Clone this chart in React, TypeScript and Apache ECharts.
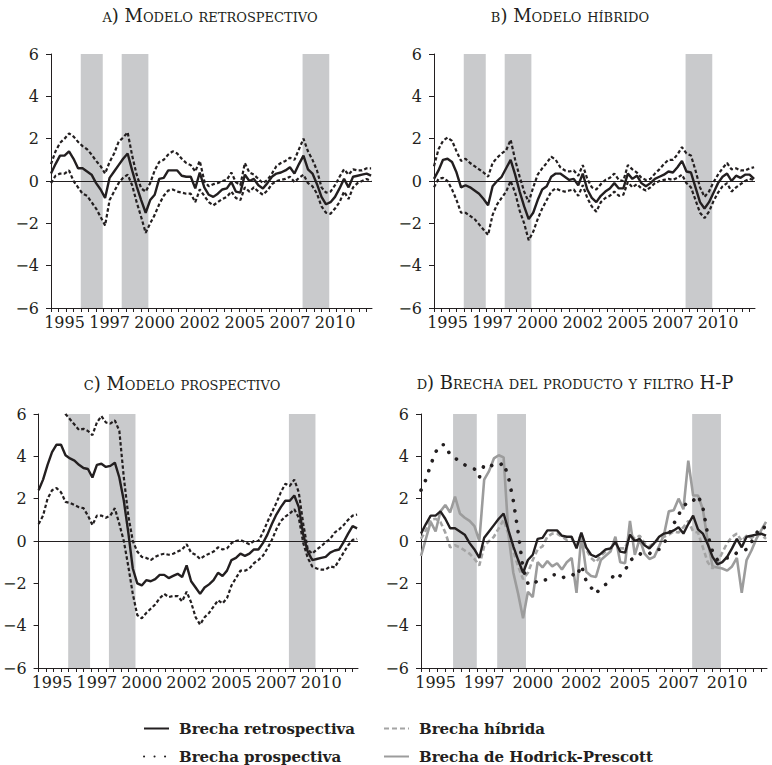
import React, { useEffect, useRef } from "react";
import * as echarts from "echarts";

// ---------- Data (quarterly, from 1994 Q2) ----------
const startYear = 1994.25;
const quarters: number[] = Array.from({ length: 72 }, (_, i) => startYear + 0.25 * i);

const yearLabels: number[] = [1995, 1997.5, 2000, 2002.5, 2005, 2007.5, 2010];

const recessions: [number, number][] = [
  [1995.9, 1997.12],
  [1998.17, 1999.65],
  [2008.2, 2009.68],
];

// a) retrospective model
const retroCentral = [
  0.35, 0.8, 1.2, 1.2, 1.4, 1.05, 0.6, 0.6, 0.45, 0.3,
  -0.1, -0.4, -0.8, 0.15, 0.45, 0.75, 1.05, 1.3, 0.5, -0.25,
  -0.9, -1.5, -0.9, -0.65, 0.1, 0.15, 0.5, 0.5, 0.5, 0.25,
  0.2, 0.2, -0.35, 0.4, -0.3, -0.65, -0.75, -0.6, -0.4, -0.35,
  -0.05, -0.5, -0.55, 0.3, 0, 0.1, -0.2, -0.35, -0.1, 0.2,
  0.35, 0.4, 0.5, 0.65, 0.35, 0.8, 1.2, 0.55, 0.35, -0.15,
  -0.75, -1.1, -1.0, -0.75, -0.35, 0.1, -0.3, 0.2, 0.25, 0.3,
  0.35, 0.25,
];
const retroUpper = [
  0.8, 1.4, 1.8, 2.0, 2.25, 2.1, 1.85, 1.65, 1.5, 1.25,
  0.95, 0.7, 0.35, 0.9, 1.3, 1.85, 2.05, 2.3, 1.2, 0.3,
  -0.35, -0.5, -0.1, 0.5, 0.9, 1.0, 1.25, 1.4, 1.3, 1.05,
  0.85, 0.75, 0.45, 0.95, 0.0, -0.25, -0.15, -0.1, 0.0, 0.05,
  0.4, -0.05, -0.2, 0.85, 0.4, 0.3, 0.1, -0.1, 0.05, 0.35,
  0.7, 0.85, 0.95, 1.1, 1.0, 1.5, 2.0, 1.4, 1.0, 0.5,
  -0.3, -0.55, -0.5, -0.2, 0.2, 0.55, 0.3, 0.55, 0.5, 0.5,
  0.6, 0.6,
];
const retroLower = [
  -0.1, 0.25, 0.35, 0.35, 0.5, 0.0, -0.3, -0.6, -0.7, -1.0,
  -1.3, -1.7, -2.1, -0.9, -0.5, -0.1, 0.15, 0.3, -0.2, -1.0,
  -1.7, -2.45, -2.0, -1.6, -1.1, -0.7, -0.45, -0.4, -0.5, -0.55,
  -0.6, -0.6, -1.0, -0.4, -0.7, -1.0, -1.15, -1.0, -0.85, -0.75,
  -0.5, -0.8, -0.9, -0.3, -0.5, -0.3, -0.5, -0.65, -0.45, -0.15,
  0.0, 0.05, 0.1, 0.2, -0.05, 0.15, 0.3, -0.1, -0.25, -0.6,
  -1.2, -1.5, -1.55, -1.3, -1.0, -0.5, -0.85, -0.3, -0.1, 0.0,
  0.1, 0.0,
];

// b) hybrid model
const hybridCentral = [
  0.1, 0.5, 1.0, 1.05, 0.9, 0.4, -0.3, -0.2, -0.3, -0.45,
  -0.6, -0.85, -1.15, -0.25, 0.0, 0.2, 0.6, 1.0, 0.3, -0.5,
  -1.2, -1.8, -1.5, -0.9, -0.4, -0.25, 0.2, 0.35, 0.35, 0.2,
  0.05, 0.1, -0.2, 0.35, -0.4, -0.8, -1.0, -0.7, -0.5, -0.35,
  -0.1, -0.35, -0.35, 0.35, 0.1, 0.25, -0.1, -0.25, -0.1, 0.1,
  0.2, 0.3, 0.45, 0.4, 0.65, 0.95, 0.45, 0.4, -0.3, -1.0,
  -1.3, -1.0, -0.55, -0.1, 0.2, 0.35, 0.0, 0.25, 0.15, 0.3,
  0.3, 0.1,
];
const hybridUpper = [
  0.7, 1.5, 1.9, 2.05, 1.9, 1.4, 0.95, 1.05, 0.85, 0.7,
  0.55, 0.4, 0.2, 0.85, 1.1, 1.3, 1.45, 1.95, 1.0, 0.2,
  -0.5, -1.0, -0.3, 0.3, 0.6, 0.85, 1.15, 1.0, 0.65, 0.5,
  0.45, 0.5, 0.25, 0.75, 0.1, -0.3, -0.4, -0.15, 0.05, 0.15,
  0.35, 0.05, 0.0, 0.75, 0.55, 0.4, 0.15, 0.05, 0.1, 0.35,
  0.55, 0.8, 1.0, 1.0, 1.25, 1.6, 1.3, 1.2, 0.5, -0.3,
  -0.75, -0.5, -0.05, 0.3, 0.6, 0.85, 0.55, 0.6, 0.5, 0.5,
  0.6, 0.65,
];
const hybridLower = [
  -0.3, 0.1, 0.15, 0.0, -0.4, -0.9, -1.5, -1.5, -1.65, -1.8,
  -2.05, -2.3, -2.55, -1.6, -1.1, -0.8, -0.5, 0.0, -0.55, -1.4,
  -2.0, -2.8, -2.4, -1.8, -1.3, -0.9, -0.5, -0.35, -0.45, -0.5,
  -0.45, -0.4, -0.7, -0.2, -0.8, -1.2, -1.45, -1.0, -0.8, -0.7,
  -0.5, -0.7, -0.65, -0.05, -0.3, -0.15, -0.35, -0.45, -0.3, -0.1,
  0.0, 0.05, 0.1, 0.05, 0.15, 0.3, -0.1, -0.3, -0.9, -1.5,
  -1.75, -1.45, -0.95, -0.55, -0.25, -0.1, -0.5, -0.3, -0.15, 0.0,
  0.1, 0.05,
];

// c) prospective model
const prospCentral = [
  2.4, 2.9, 3.6, 4.2, 4.55, 4.55, 4.05, 3.9, 3.8, 3.6,
  3.45, 3.4, 3.0, 3.6, 3.65, 3.5, 3.55, 3.7, 3.0, 1.9,
  0.4, -1.3, -2.0, -2.1, -1.85, -1.9, -1.8, -1.6, -1.6, -1.75,
  -1.65, -1.55, -1.7, -1.15, -1.9, -2.2, -2.5, -2.2, -2.05, -1.85,
  -1.5, -1.65, -1.4, -0.9, -0.8, -0.6, -0.7, -0.6, -0.4, -0.4,
  -0.1, 0.3, 0.8, 1.25, 1.6, 1.9, 1.9, 2.15, 1.6, 0.3,
  -0.5, -0.9, -0.85, -0.8, -0.75, -0.55, -0.45, -0.4, -0.05, 0.35,
  0.7, 0.6,
];
const prospUpper = [
  6.8, 7.4, 8.0, 8.3, 8.2, 6.9, 6.0, 5.75, 5.5, 5.25,
  5.3, 5.2, 5.0, 5.6, 5.9, 5.6, 5.55, 5.7, 5.2, 3.0,
  1.2, 0.0, -0.5, -0.75, -0.8, -0.9, -0.75, -0.65, -0.6, -0.65,
  -0.6, -0.5, -0.4, -0.15, -0.55, -0.65, -0.85, -0.7, -0.6, -0.5,
  -0.3, -0.4, -0.35, -0.1, 0.0, 0.05, -0.05, -0.15, 0.0, 0.0,
  0.4, 0.9, 1.35, 1.8, 2.3, 2.7, 2.6, 2.9, 2.3, 0.8,
  -0.4, -0.6, -0.4, -0.25, -0.05, 0.1, 0.4, 0.55, 0.75, 1.0,
  1.2, 1.25,
];
const prospLower = [
  0.8, 1.2, 2.0, 2.4, 2.5, 2.3, 1.85, 1.8, 1.7, 1.6,
  1.55, 1.2, 0.75, 1.2, 1.2, 1.1, 1.2, 1.55, 0.8, 0.0,
  -1.2, -2.5, -3.5, -3.65, -3.4, -3.2, -3.0, -2.7, -2.5, -2.65,
  -2.6, -2.6, -2.85, -2.4, -2.9, -3.6, -3.95, -3.6, -3.4, -3.1,
  -2.8, -2.95, -2.7, -2.1, -1.75, -1.4, -1.4, -1.3, -1.05, -0.9,
  -0.7, -0.35, 0.05, 0.55, 0.95, 1.15, 1.3, 1.5, 1.1, -0.1,
  -0.8, -1.2, -1.3, -1.35, -1.35, -1.2, -1.25, -0.9, -0.55, -0.2,
  0.05, 0.1,
];

// d) Hodrick-Prescott gap
const hpGap = [
  -0.7, 0.1, 0.9, 0.45, 1.4, 1.7, 1.35, 2.1, 1.3, 1.1,
  0.95, 0.7, 0.0, 2.9, 3.3, 3.9, 4.05, 3.95, 0.3, -1.5,
  -2.5, -3.65, -2.4, -2.65, -1.0, -1.25, -0.95, -1.2, -1.05, -1.35,
  -1.0, -0.8, -2.45, 0.25, -1.45, -1.65, -1.7, -0.9, -0.7, -0.5,
  0.2, -1.0, -1.05, 0.95, -0.65, 0.1, -0.6, -0.85, -0.75, -0.25,
  0.3, 1.4, 1.45, 2.0, 1.5, 3.8, 2.15, 2.15, 1.5, 0.0,
  -1.2, -1.25, -1.3, -1.4, -1.2, -0.8, -2.45, -0.9, -0.45, 0.1,
  0.5, 0.9,
];

const panelTitles = [
  "a) Modelo retrospectivo",
  "b) Modelo híbrido",
  "c) Modelo prospectivo",
  "d) Brecha del producto y filtro H-P",
];
const legendNames = [
  "Brecha retrospectiva",
  "Brecha prospectiva",
  "Brecha híbrida",
  "Brecha de Hodrick-Prescott",
];

// ---------- Styling ----------
const FONT = "DejaVu Serif";
const INK = "#231f20";
const GRAY_HP = "#9c9c9c";
const GRAY_HYB = "#a4a4a4";
const SHADE = "#c9cacc";
const X_MIN = 1994.25;
const X_MAX = 2012.05;

const grids = [
  { left: 51, top: 54, width: 321, height: 254 },
  { left: 434, top: 54, width: 321, height: 254 },
  { left: 36, top: 414, width: 322, height: 254 },
  { left: 421, top: 414, width: 346, height: 254 },
];
const titlePos = [
  [210, 15],
  [570, 15],
  [182, 383],
  [575, 382],
];

const tickValues: number[] = [];
for (let t = X_MIN; t <= X_MAX + 1e-6; t += 5 / 12) tickValues.push(t);

const pairs = (vals: number[]) => vals.map((v, i) => [quarters[i], v]);

const solid = (w = 2.2, c = INK) => ({ type: "solid", width: w, color: c });
const bandDash = { type: [3.5, 2.3], width: 2.2, color: INK };

function shadeSeries(k: number) {
  return {
    type: "line",
    xAxisIndex: k,
    yAxisIndex: k,
    data: [],
    z: 1,
    silent: true,
    markArea: {
      silent: true,
      itemStyle: { color: SHADE },
      data: recessions.map(([a, b]) => [{ xAxis: a }, { xAxis: b }]),
    },
  };
}

const zeroLine = {
  silent: true,
  symbol: "none",
  label: { show: false },
  lineStyle: { color: INK, width: 1, type: "solid" },
  data: [{ yAxis: 0 }],
};

function panelSeries(k: number, central: number[], upper: number[], lower: number[]) {
  return [
    shadeSeries(k),
    {
      name: `p${k}-upper`,
      type: "line",
      xAxisIndex: k,
      yAxisIndex: k,
      data: pairs(upper),
      symbol: "none",
      z: 3,
      lineStyle: bandDash,
    },
    {
      name: `p${k}-lower`,
      type: "line",
      xAxisIndex: k,
      yAxisIndex: k,
      data: pairs(lower),
      symbol: "none",
      z: 3,
      lineStyle: bandDash,
    },
    {
      name: `p${k}-central`,
      type: "line",
      xAxisIndex: k,
      yAxisIndex: k,
      data: pairs(central),
      symbol: "none",
      z: 4,
      lineStyle: solid(2.4),
      markLine: zeroLine,
    },
  ];
}

function buildOption() {
  const xAxis = grids.map((_, k) => ({
    type: "value",
    gridIndex: k,
    min: X_MIN,
    max: X_MAX,
    axisLine: { show: true, onZero: false, lineStyle: { color: INK, width: 1 } },
    axisTick: {
      show: true,
      inside: false,
      length: 4,
      customValues: tickValues,
      lineStyle: { color: INK, width: 1 },
    },
    axisLabel: {
      customValues: yearLabels,
      formatter: (v: number) => String(Math.floor(v)),
      fontFamily: FONT,
      fontSize: 16,
      color: INK,
      margin: 6,
    },
    splitLine: { show: false },
  }));
  const yAxis = grids.map((_, k) => ({
    type: "value",
    gridIndex: k,
    min: -6,
    max: 6,
    interval: 2,
    axisLine: { show: true, onZero: false, lineStyle: { color: INK, width: 1 } },
    axisTick: { show: true, length: 5, lineStyle: { color: INK, width: 1 } },
    axisLabel: {
      formatter: (v: number) => (v < 0 ? "\u2212" + Math.abs(v) : String(v)),
      fontFamily: FONT,
      fontSize: 16,
      color: INK,
      margin: 12,
    },
    splitLine: { show: false },
  }));

  const series: any[] = [
    ...panelSeries(0, retroCentral, retroUpper, retroLower),
    ...panelSeries(1, hybridCentral, hybridUpper, hybridLower),
    ...panelSeries(2, prospCentral, prospUpper, prospLower),
    shadeSeries(3),
    {
      name: legendNames[3],
      type: "line",
      xAxisIndex: 3,
      yAxisIndex: 3,
      data: pairs(hpGap),
      symbol: "none",
      z: 3,
      itemStyle: { color: GRAY_HP },
      lineStyle: solid(2.6, GRAY_HP),
      markLine: zeroLine,
    },
    {
      name: legendNames[2],
      type: "line",
      xAxisIndex: 3,
      yAxisIndex: 3,
      data: pairs(hybridCentral),
      symbol: "none",
      z: 4,
      itemStyle: { color: GRAY_HYB },
      lineStyle: { type: [5, 3], width: 2.6, color: GRAY_HYB },
    },
    {
      name: legendNames[1],
      type: "line",
      xAxisIndex: 3,
      yAxisIndex: 3,
      data: pairs(prospCentral),
      symbol: "none",
      z: 5,
      itemStyle: { color: INK },
      lineStyle: { type: [0.1, 10.4], width: 3.6, cap: "round", color: INK },
    },
    {
      name: legendNames[0],
      type: "line",
      xAxisIndex: 3,
      yAxisIndex: 3,
      data: pairs(retroCentral),
      symbol: "none",
      z: 6,
      itemStyle: { color: INK },
      lineStyle: solid(2.4),
    },
  ];

  const legendText = {
    fontFamily: FONT,
    fontWeight: "bold",
    fontSize: 15,
    color: INK,
    padding: [0, 0, 0, 5],
  };
  const legendBase = {
    orient: "vertical",
    top: 721,
    padding: 0,
    itemWidth: 25,
    itemHeight: 14,
    itemGap: 13,
    selectedMode: false,
    itemStyle: { opacity: 0 },
    textStyle: legendText,
  };

  const graphic = panelTitles.map((t, k) => ({
    type: "text",
    x: titlePos[k][0],
    y: titlePos[k][1],
    silent: true,
    style: {
      text: t,
      font: "small-caps 18px DejaVu Serif",
      fill: INK,
      align: "center",
      verticalAlign: "middle",
      textAlign: "center",
      textVerticalAlign: "middle",
    },
  }));

  return {
    animation: false,
    backgroundColor: "#ffffff",
    grid: grids,
    xAxis,
    yAxis,
    series,
    legend: [
      { ...legendBase, data: [legendNames[0], legendNames[1]], left: 143 },
      { ...legendBase, data: [legendNames[2], legendNames[3]], left: 383 },
    ],
    graphic,
  };
}

export default function App() {
  const ref = useRef<HTMLDivElement>(null);
  useEffect(() => {
    if (!ref.current) return;
    const chart = echarts.init(ref.current, undefined, { renderer: "svg" });
    chart.setOption(buildOption() as any);
    return () => chart.dispose();
  }, []);
  return (
    <div
      ref={ref}
      style={{ position: "absolute", left: 0, top: 0, width: 772, height: 765 }}
    />
  );
}
